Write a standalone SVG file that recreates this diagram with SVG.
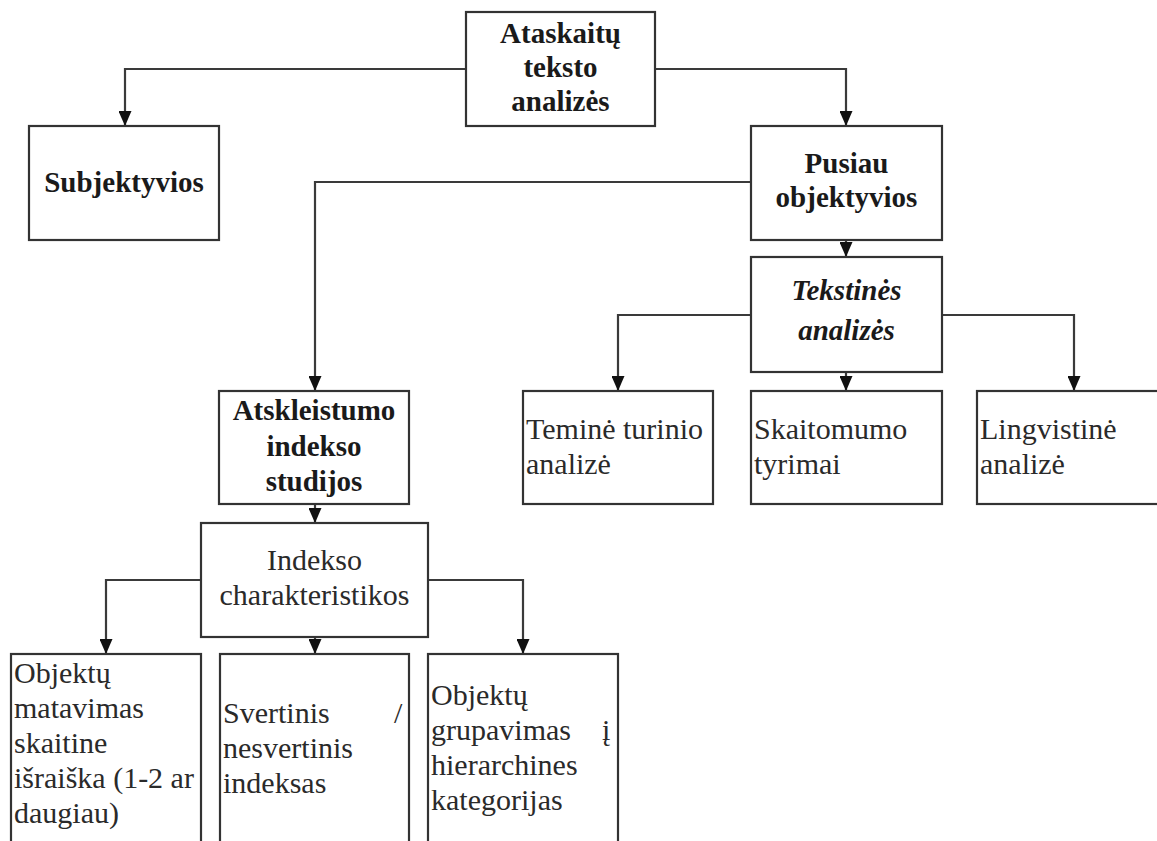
<svg xmlns="http://www.w3.org/2000/svg" width="1157" height="841" viewBox="0 0 1157 841" font-family="'Liberation Serif', 'Times New Roman', 'DejaVu Serif', serif">
<defs>
<style>
text{font-family:'Liberation Serif','Times New Roman','DejaVu Serif',serif}
.box{fill:#fff;stroke:#333;stroke-width:2.2}
.c{fill:none;stroke:#3a3a3a;stroke-width:2.2}
.t{font-size:30px;fill:#2a2a2a}
.b{font-size:29px;font-weight:bold;fill:#1a1a1a;text-anchor:middle}
.bi{font-style:italic}
.m{text-anchor:middle}
</style>
<marker id="arr" markerWidth="15" markerHeight="13" refX="15" refY="6.5" orient="auto" markerUnits="userSpaceOnUse">
<path d="M0,0 L15,6.5 L0,13 z" fill="#111"/>
</marker>
</defs>
<rect width="1157" height="841" fill="#fff"/>
<g id="connectors">
<path class="c" d="M466,69 H125 V126" marker-end="url(#arr)"/>
<path class="c" d="M655,69 H846 V126" marker-end="url(#arr)"/>
<path class="c" d="M751,182 H315 V391" marker-end="url(#arr)"/>
<path class="c" d="M846,240 V257" marker-end="url(#arr)"/>
<path class="c" d="M751,315 H618 V391" marker-end="url(#arr)"/>
<path class="c" d="M942,315 H1074 V391" marker-end="url(#arr)"/>
<path class="c" d="M846,372 V391" marker-end="url(#arr)"/>
<path class="c" d="M315,504 V523" marker-end="url(#arr)"/>
<path class="c" d="M201,580 H106 V654" marker-end="url(#arr)"/>
<path class="c" d="M428,580 H523 V654" marker-end="url(#arr)"/>
<path class="c" d="M315,637 V654" marker-end="url(#arr)"/>
</g>
<g id="n-ataskaitu">
<rect class="box" x="466" y="12" width="189" height="114"/>
<text class="b" x="560.5" y="43">Ataskaitų</text>
<text class="b" x="560.5" y="77">teksto</text>
<text class="b" x="560.5" y="111">analizės</text>
</g>
<g id="n-subjektyvios">
<rect class="box" x="29" y="126" width="190" height="114"/>
<text class="b" x="124" y="192">Subjektyvios</text>
</g>
<g id="n-pusiau">
<rect class="box" x="751" y="126" width="191" height="114"/>
<text class="b" x="846.5" y="173">Pusiau</text>
<text class="b" x="846.5" y="207">objektyvios</text>
</g>
<g id="n-tekstines">
<rect class="box" x="751" y="257" width="191" height="115"/>
<text class="b bi" x="846.5" y="300">Tekstinės</text>
<text class="b bi" x="846.5" y="340">analizės</text>
</g>
<g id="n-temine">
<rect class="box" x="523" y="391" width="190" height="113"/>
<text class="t" x="526" y="439">Teminė turinio</text>
<text class="t" x="526" y="474">analizė</text>
</g>
<g id="n-skaitomumo">
<rect class="box" x="751" y="391" width="191" height="113"/>
<text class="t" x="754" y="439">Skaitomumo</text>
<text class="t" x="754" y="474">tyrimai</text>
</g>
<g id="n-lingvistine">
<rect class="box" x="977" y="391" width="200" height="113"/>
<text class="t" x="980" y="439">Lingvistinė</text>
<text class="t" x="980" y="474">analizė</text>
</g>
<g id="n-atskleistumo">
<rect class="box" x="219" y="391" width="190" height="113"/>
<text class="b" x="314" y="420">Atskleistumo</text>
<text class="b" x="314" y="456">indekso</text>
<text class="b" x="314" y="491">studijos</text>
</g>
<g id="n-indekso">
<rect class="box" x="201" y="523" width="227" height="114"/>
<text class="t m" x="314.5" y="570">Indekso</text>
<text class="t m" x="314.5" y="605">charakteristikos</text>
</g>
<g id="n-objektu-matavimas">
<rect class="box" x="11" y="654" width="190" height="200"/>
<text class="t" x="14" y="683">Objektų</text>
<text class="t" x="14" y="718">matavimas</text>
<text class="t" x="14" y="753">skaitine</text>
<text class="t" x="14" y="788">išraiška (1-2 ar</text>
<text class="t" x="14" y="823">daugiau)</text>
</g>
<g id="n-svertinis">
<rect class="box" x="220" y="654" width="189" height="200"/>
<text class="t" x="223" y="723">Svertinis <tspan x="394">/</tspan></text>
<text class="t" x="223" y="758">nesvertinis</text>
<text class="t" x="223" y="793">indeksas</text>
</g>
<g id="n-objektu-grupavimas">
<rect class="box" x="428" y="654" width="190" height="200"/>
<text class="t" x="431" y="705">Objektų</text>
<text class="t" x="431" y="740">grupavimas <tspan x="602">į</tspan></text>
<text class="t" x="431" y="775">hierarchines</text>
<text class="t" x="431" y="810">kategorijas</text>
</g>
</svg>
